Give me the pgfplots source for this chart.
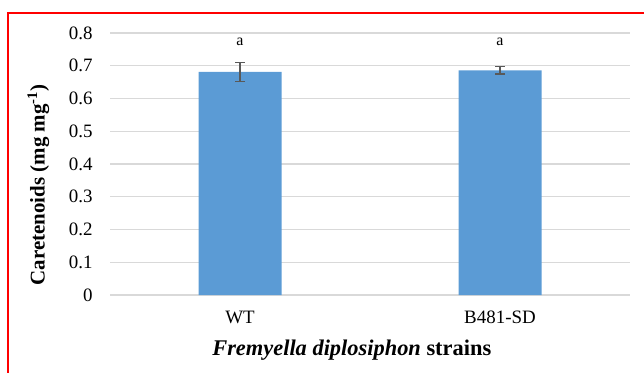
\documentclass[border=0pt]{standalone}
\usepackage{pgfplots}
\pgfplotsset{compat=1.18}
\usepackage{fontspec}
\setmainfont{Liberation Serif}
\definecolor{barblue}{HTML}{5B9BD5}
\definecolor{gridgray}{HTML}{D9D9D9}
\definecolor{errgray}{HTML}{595959}
\begin{document}
\begin{tikzpicture}
\useasboundingbox (0,0) rectangle (644bp,373bp);
\draw[red, line width=2bp] (8bp,-20bp) -- (8bp,360bp) -- (680bp,360bp);
\begin{axis}[
  at={(110bp,78bp)}, anchor=south west,
  scale only axis, width=520bp, height=262bp,
  xmin=-0.5, xmax=1.5, ymin=0, ymax=0.8,
  axis line style={draw=none},
  major tick length=0pt,
  ymajorgrids, grid style={gridgray, line width=1.2bp},
  ytick={0,0.1,...,0.8},
  yticklabels={0,0.1,0.2,0.3,0.4,0.5,0.6,0.7,0.8},
  xtick={0,1}, xticklabels={WT,B481-SD},
  ticklabel style={font=\fontsize{19}{21}\selectfont},
  yticklabel style={xshift=-14bp},
  xticklabel style={anchor=center, yshift=-22bp},
  /pgf/number format/assume math mode=true,
  xlabel={\textbf{\textit{Fremyella diplosiphon} strains}},
  xlabel style={font=\fontsize{22.5}{24}\selectfont, at={(axis description cs:0.465,-0.21)}, anchor=center},
  ylabel={\textbf{Caretenoids (mg mg\textsuperscript{-1})}},
  ylabel style={font=\fontsize{21}{23}\selectfont, at={(axis description cs:-0.138,0.42)}, anchor=center},
  clip=false,
]
\addplot[ybar, bar width=83bp, fill=barblue, draw=none,
  error bars/.cd, y dir=both, y explicit,
  error bar style={errgray, line width=1.2bp},
  error mark options={rotate=90, mark size=5bp, errgray, line width=1.2bp}]
  coordinates {(0,0.681) +- (0,0.030) (1,0.686) +- (0,0.011)};
\node[font=\fontsize{16}{18}\selectfont] at (axis cs:0,0.772) {a};
\node[font=\fontsize{16}{18}\selectfont] at (axis cs:1,0.772) {a};
\end{axis}
\end{tikzpicture}
\end{document}
